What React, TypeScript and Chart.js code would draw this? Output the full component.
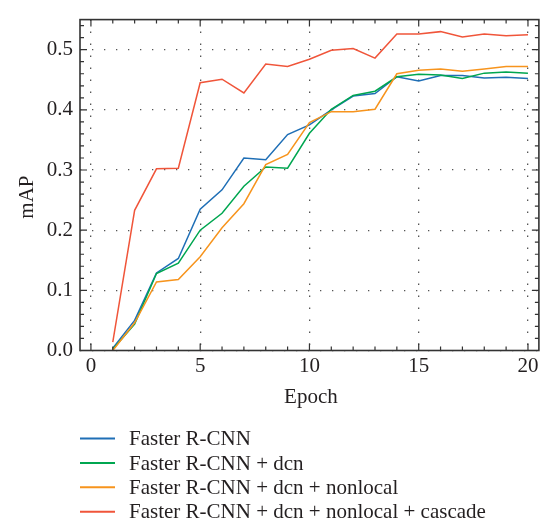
import { useEffect, useRef } from "react";
import { Chart, registerables } from "chart.js";

Chart.register(...registerables);

const epochs = [1, 2, 3, 4, 5, 6, 7, 8, 9, 10, 11, 12, 13, 14, 15, 16, 17, 18, 19, 20];
const fasterRcnn = [0.004, 0.05, 0.129, 0.153, 0.235, 0.267, 0.32, 0.317, 0.359, 0.375, 0.4, 0.423, 0.427, 0.455, 0.448, 0.457, 0.457, 0.453, 0.454, 0.452];
const fasterRcnnDcn = [0.002, 0.044, 0.128, 0.145, 0.2, 0.228, 0.273, 0.305, 0.303, 0.361, 0.401, 0.424, 0.431, 0.455, 0.459, 0.458, 0.452, 0.461, 0.463, 0.461];
const fasterRcnnDcnNonlocal = [0.0, 0.046, 0.114, 0.118, 0.156, 0.204, 0.244, 0.309, 0.326, 0.379, 0.397, 0.397, 0.401, 0.46, 0.466, 0.468, 0.464, 0.468, 0.472, 0.472];
const fasterRcnnDcnNonlocalCascade = [0.014, 0.233, 0.302, 0.303, 0.445, 0.451, 0.428, 0.476, 0.472, 0.484, 0.499, 0.502, 0.486, 0.526, 0.526, 0.53, 0.521, 0.526, 0.523, 0.525];

const seriesLabels = [
  "Faster R-CNN",
  "Faster R-CNN + dcn",
  "Faster R-CNN + dcn + nonlocal",
  "Faster R-CNN + dcn + nonlocal + cascade",
];
const seriesColors = ["#1f6fb6", "#00a650", "#f7941d", "#f0553a"];

const xTitle = "Epoch";
const yTitle = "mAP";
const xMajorTicks = [0, 5, 10, 15, 20];
const yMajorTicks = [0, 0.1, 0.2, 0.3, 0.4, 0.5];
const xMinorTicks = [0, 1, 2, 3, 4, 5, 6, 7, 8, 9, 10, 11, 12, 13, 14, 15, 16, 17, 18, 19, 20];
const yMinorTicks = [0, 0.02, 0.04, 0.06, 0.08, 0.1, 0.12, 0.14, 0.16, 0.18, 0.2, 0.22, 0.24, 0.26, 0.28, 0.3, 0.32, 0.34, 0.36, 0.38, 0.4, 0.42, 0.44, 0.46, 0.48, 0.5, 0.52, 0.54];

const FONT = "'Liberation Serif', 'DejaVu Serif', serif";
const TEXT = "#231f20";
const FRAME = "#333333";

const decorPlugin = {
  id: "decor",
  afterDraw(chart: any) {
    const { ctx, chartArea: a, scales } = chart;
    const xs = scales.x;
    const ys = scales.y;
    ctx.save();
    ctx.strokeStyle = FRAME;
    ctx.lineWidth = 1.2;
    ctx.beginPath();
    const xLine = (v: number, len: number) => {
      const p = xs.getPixelForValue(v);
      ctx.moveTo(p, a.bottom);
      ctx.lineTo(p, a.bottom - len);
      ctx.moveTo(p, a.top);
      ctx.lineTo(p, a.top + len);
    };
    const yLine = (v: number, len: number) => {
      const p = ys.getPixelForValue(v);
      ctx.moveTo(a.left, p);
      ctx.lineTo(a.left + len, p);
      ctx.moveTo(a.right, p);
      ctx.lineTo(a.right - len, p);
    };
    xMinorTicks.forEach((v) => xLine(v, 4));
    xMajorTicks.forEach((v) => xLine(v, 7));
    yMinorTicks.forEach((v) => yLine(v, 4));
    yMajorTicks.forEach((v) => yLine(v, 7));
    ctx.stroke();
    ctx.lineWidth = 1.6;
    ctx.strokeRect(a.left, a.top, a.right - a.left, a.bottom - a.top);

    ctx.fillStyle = TEXT;
    ctx.font = `21px ${FONT}`;
    ctx.textAlign = "center";
    ctx.textBaseline = "alphabetic";
    ctx.fillText(xTitle, (a.left + a.right) / 2 + 1.5, 403);

    ctx.save();
    ctx.translate(33, (a.top + a.bottom) / 2 + 12);
    ctx.rotate(-Math.PI / 2);
    ctx.fillText(yTitle, 0, 0);
    ctx.restore();

    ctx.textAlign = "left";
    chart.data.datasets.forEach((ds: any, i: number) => {
      const y = 438.5 + i * 24.4;
      ctx.strokeStyle = ds.borderColor;
      ctx.lineWidth = 2;
      ctx.beginPath();
      ctx.moveTo(80, y);
      ctx.lineTo(115, y);
      ctx.stroke();
      ctx.fillStyle = TEXT;
      ctx.fillText(ds.label, 129, y + 6.7);
    });
    ctx.restore();
  },
};

export default function App() {
  const ref = useRef<HTMLCanvasElement | null>(null);

  useEffect(() => {
    if (!ref.current) return;
    const series = [fasterRcnn, fasterRcnnDcn, fasterRcnnDcnNonlocal, fasterRcnnDcnNonlocalCascade];
    const chart = new Chart(ref.current, {
      type: "line",
      data: {
        datasets: series.map((vals, i) => ({
          label: seriesLabels[i],
          data: epochs.map((e, j) => ({ x: e, y: vals[j] })),
          borderColor: seriesColors[i],
          backgroundColor: seriesColors[i],
          borderWidth: 1.5,
          pointRadius: 0,
          tension: 0,
          fill: false,
          order: 4 - i,
        })),
      },
      options: {
        animation: false,
        responsive: true,
        maintainAspectRatio: false,
        layout: { padding: { left: 0, top: 7.3, right: 1.5, bottom: 116.5 } },
        plugins: {
          legend: { display: false },
          tooltip: { enabled: false },
        },
        scales: {
          x: {
            type: "linear",
            min: -0.5,
            max: 20.5,
            afterBuildTicks: (s: any) => {
              s.ticks = xMajorTicks.map((v) => ({ value: v }));
            },
            afterFit: (s: any) => {
              s.height = 60;
            },
            ticks: {
              padding: 3.5,
              color: TEXT,
              font: { family: FONT, size: 21 },
              maxRotation: 0,
              callback: (v: any) => String(v),
            },
            grid: { color: "#555", lineWidth: 1.3, drawTicks: false },
            border: { display: false, dash: [1.3, 10.7] },
          },
          y: {
            type: "linear",
            min: 0,
            max: 0.55,
            afterBuildTicks: (s: any) => {
              s.ticks = yMajorTicks.map((v) => ({ value: v }));
            },
            afterFit: (s: any) => {
              s.width = 80;
            },
            ticks: {
              padding: 7,
              color: TEXT,
              font: { family: FONT, size: 21 },
              callback: (v: any) => Number(v).toFixed(1),
            },
            grid: { color: "#555", lineWidth: 1.3, drawTicks: false },
            border: { display: false, dash: [1.3, 10.7] },
          },
        },
      },
      plugins: [decorPlugin],
    });
    return () => chart.destroy();
  }, []);

  return (
    <div style={{ position: "absolute", left: 0, top: 0, width: 542, height: 527, background: "#fff" }}>
      <canvas ref={ref} />
    </div>
  );
}
